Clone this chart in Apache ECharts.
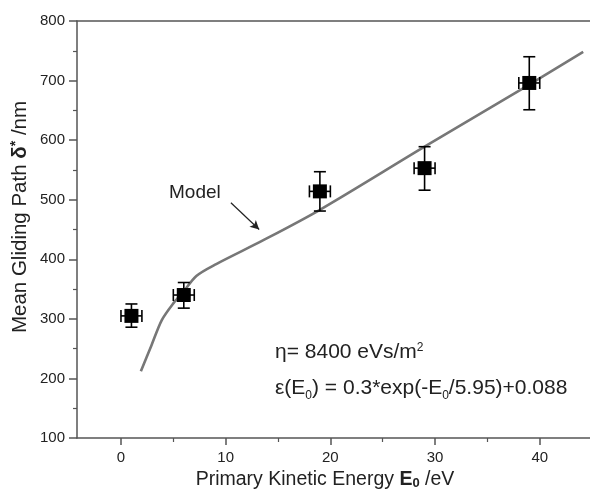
<!DOCTYPE html>
<html>
<head>
<meta charset="utf-8">
<script src="https://cdn.jsdelivr.net/npm/echarts@6/dist/echarts.min.js"></script>
<style>
  html, body { margin: 0; padding: 0; background: #fff; }
  #main { width: 590px; height: 489px; }
</style>
</head>
<body>
<div id="main"></div>
<script>
// measured points
var energy = [1, 6, 19, 29, 39];
var gliding = [305, 340, 514, 553, 696];
var glidingLow = [286, 318, 481, 516, 651];
var glidingHigh = [325, 361, 547, 589, 740];
var energyErr = [1, 1, 1, 1, 1];

// model curve
var modelEnergy = [1.9, 2.9, 3.9, 5.0, 5.9, 7.2, 9.1, 13.6, 19, 29, 38.6, 44.15];
var modelPath = [212, 255, 298, 326, 344, 372, 392, 432, 483, 589, 689, 748];

var xLabels = [0, 10, 20, 30, 40];
var xMinor = [5, 15, 25, 35];

var font = 'Liberation Sans, Arial, sans-serif';
var axisColor = '#555';
var textColor = '#222';

var points = energy.map(function (e, i) {
    return [e, gliding[i], glidingLow[i], glidingHigh[i], e - energyErr[i], e + energyErr[i]];
});
var model = modelEnergy.map(function (e, i) { return [e, modelPath[i]]; });

function errorBars(params, api) {
    var x = api.value(0), y = api.value(1);
    var top = api.coord([x, api.value(3)]);
    var bot = api.coord([x, api.value(2)]);
    var left = api.coord([api.value(4), y]);
    var right = api.coord([api.value(5), y]);
    var c = 6;
    var st = { stroke: '#000', lineWidth: 1.6 };
    function seg(x1, y1, x2, y2) {
        return { type: 'line', shape: { x1: x1, y1: y1, x2: x2, y2: y2 }, style: st };
    }
    return {
        type: 'group',
        children: [
            seg(top[0], top[1], bot[0], bot[1]),
            seg(top[0] - c, top[1], top[0] + c, top[1]),
            seg(bot[0] - c, bot[1], bot[0] + c, bot[1]),
            seg(left[0], left[1], right[0], right[1]),
            seg(left[0], left[1] - c, left[0], left[1] + c),
            seg(right[0], right[1] - c, right[0], right[1] + c)
        ]
    };
}

var myChart = echarts.init(document.getElementById('main'));
var option = {
    animation: false,
    backgroundColor: '#fff',
    grid: { left: 77, top: 21, right: 0, bottom: 51 },
    xAxis: [
        {
            type: 'value', min: -4.2, max: 44.8, position: 'bottom',
            axisLine: { show: true, onZero: false, lineStyle: { color: axisColor, width: 1.5 } },
            axisTick: { show: true, length: 7, customValues: xLabels, lineStyle: { color: axisColor, width: 1.5 } },
            axisLabel: { customValues: xLabels, margin: 12, fontSize: 15, color: textColor, fontFamily: font },
            splitLine: { show: false }
        },
        {
            type: 'value', min: -4.2, max: 44.8, position: 'bottom',
            axisLine: { show: false, onZero: false },
            axisTick: { show: true, length: 4, customValues: xMinor, lineStyle: { color: axisColor, width: 1.2 } },
            axisLabel: { show: false },
            splitLine: { show: false }
        },
        {
            type: 'value', min: -4.2, max: 44.8, position: 'top',
            axisLine: { show: true, onZero: false, lineStyle: { color: axisColor, width: 1.5 } },
            axisTick: { show: false },
            axisLabel: { show: false },
            splitLine: { show: false }
        }
    ],
    yAxis: {
        type: 'value', min: 100, max: 800, interval: 100,
        axisLine: { show: true, onZero: false, lineStyle: { color: axisColor, width: 1.5 } },
        axisTick: { show: true, length: 8, lineStyle: { color: axisColor, width: 1.5 } },
        minorTick: { show: true, splitNumber: 2, length: 4, lineStyle: { color: axisColor, width: 1.2 } },
        axisLabel: { margin: 12, fontSize: 15, color: textColor, fontFamily: font },
        splitLine: { show: false }
    },
    series: [
        {
            name: 'Model',
            type: 'line',
            data: model,
            smooth: 0.3,
            showSymbol: false,
            z: 1,
            lineStyle: { color: '#777', width: 2.6 },
            markLine: {
                silent: true,
                symbol: ['none', 'arrow'],
                symbolSize: [7, 9],
                label: { show: false },
                lineStyle: { color: '#222', width: 1.2, type: 'solid' },
                data: [[{ coord: [10.5, 495] }, { coord: [13.2, 450] }]]
            }
        },
        {
            type: 'custom',
            renderItem: errorBars,
            data: points,
            z: 2
        },
        {
            type: 'scatter',
            data: points.map(function (p) { return [p[0], p[1]]; }),
            symbol: 'rect',
            symbolSize: 14,
            itemStyle: { color: '#000', opacity: 1 },
            z: 3
        }
    ],
    graphic: [
        {
            type: 'text', x: 20, y: 217, rotation: Math.PI / 2,
            style: {
                text: 'Mean Gliding Path {b|δ}{s|*} /nm',
                fontSize: 20.5, fontFamily: font, fill: textColor,
                align: 'center', verticalAlign: 'middle',
                rich: {
                    b: { fontSize: 20.5, fontWeight: 'bold', fontFamily: font, fill: textColor },
                    s: { fontSize: 14, fontWeight: 'bold', verticalAlign: 'top', fontFamily: font, fill: textColor }
                }
            }
        },
        {
            type: 'text', x: 325, y: 480,
            style: {
                text: 'Primary Kinetic Energy {b|E}{sub|0} /eV',
                fontSize: 19.5, fontFamily: font, fill: textColor,
                align: 'center', verticalAlign: 'middle',
                rich: {
                    b: { fontSize: 19.5, fontWeight: 'bold', fontFamily: font, fill: textColor },
                    sub: { fontSize: 13, fontWeight: 'bold', verticalAlign: 'bottom', fontFamily: font, fill: textColor }
                }
            }
        },
        {
            type: 'text', x: 169, y: 193,
            style: { text: 'Model', fontSize: 19, fontFamily: font, fill: textColor, align: 'left', verticalAlign: 'middle' }
        },
        {
            type: 'text', x: 275, y: 352,
            style: {
                text: 'η= 8400 eVs/m{sup|2}',
                fontSize: 21, fontFamily: font, fill: textColor,
                align: 'left', verticalAlign: 'middle',
                rich: {
                    sup: { fontSize: 12, verticalAlign: 'top', fontFamily: font, fill: textColor }
                }
            }
        },
        {
            type: 'text', x: 275, y: 388,
            style: {
                text: 'ε(E{sub|0}) = 0.3*exp(-E{sub|0}/5.95)+0.088',
                fontSize: 21, fontFamily: font, fill: textColor,
                align: 'left', verticalAlign: 'middle', lineHeight: 28,
                rich: {
                    sub: { fontSize: 12, verticalAlign: 'bottom', lineHeight: 28, fontFamily: font, fill: textColor }
                }
            }
        }
    ]
};
myChart.setOption(option);
</script>
</body>
</html>
